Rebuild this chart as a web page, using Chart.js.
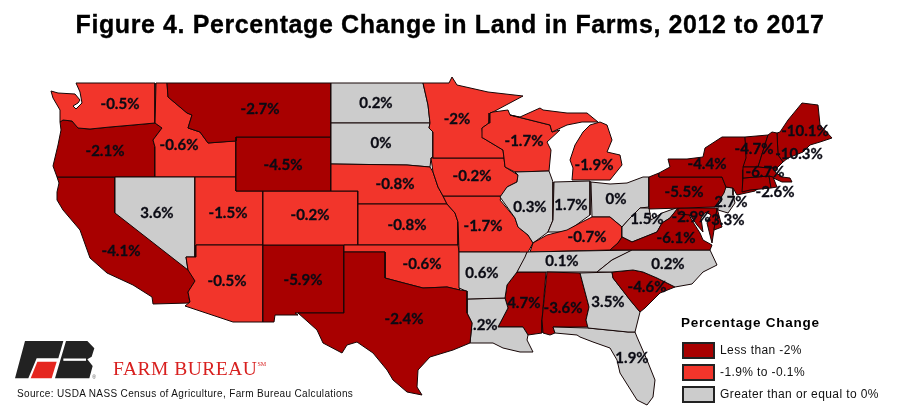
<!DOCTYPE html>
<html>
<head>
<meta charset="utf-8">
<title>Land in Farms</title>
<script src="https://cdn.jsdelivr.net/npm/chart.js@4/dist/chart.umd.min.js"></script>
<style>
    html, body { margin: 0; padding: 0; background: #fff; overflow: hidden; }
    #wrap { position: relative; width: 900px; height: 416px; }
    #wrap > * { position: absolute; }
    #mapChart { left: 0; top: 0; }
    #title { left: 0; width: 900px; top: 10px; text-align: center; font: bold 25px "Liberation Sans"; letter-spacing: .6px; color: #000; white-space: nowrap; -webkit-text-stroke: .35px #000; }
    #legendTitle { left: 681px; top: 315px; font: bold 13.5px "Liberation Sans"; letter-spacing: .75px; color: #000; white-space: nowrap; }
    .swatch { left: 682px; width: 29px; height: 13px; border: 2px solid #222; }
    .legendText { left: 720px; font: 12px "Liberation Sans"; letter-spacing: .4px; color: #111; white-space: nowrap; }
    #brand { left: 113px; top: 358px; font: 19.5px "Liberation Serif"; letter-spacing: .5px; color: #d8201f; white-space: nowrap; }
    #brand sup { font-size: 6px; vertical-align: 9px; letter-spacing: 0; }
    #source { left: 17px; top: 388px; font: 10px "Liberation Sans"; letter-spacing: .35px; color: #111; white-space: nowrap; }
    #logo { left: 0; top: 330px; }
</style>
</head>
<body>
<div id="wrap">
    <canvas id="mapChart" width="900" height="416"></canvas>
    <div id="title">Figure 4. Percentage Change in Land in Farms, 2012 to 2017</div>
    <div id="legendTitle"></div>
    <div class="swatch" style="top:342px"></div><div class="legendText" style="top:343px"></div>
    <div class="swatch" style="top:364px"></div><div class="legendText" style="top:365px"></div>
    <div class="swatch" style="top:386px"></div><div class="legendText" style="top:387px"></div>
    <svg id="logo" width="370" height="80" viewBox="0 0 1110 240">
        <path fill="#222" d="M75 33H190L175 85H110L85 145H45Z"/>
        <path fill="#e5261f" d="M112 95H170L155 145H92Z"/>
        <path fill="#222" d="M198 33H262L283 55L275 80L262 88L278 108L268 145H165Z"/>
        <path fill="none" stroke="#fff" stroke-width="7" d="M190 89H258"/>
        <text x="277" y="147" font-size="15" font-family="Liberation Sans" fill="#555">®</text>
    </svg>
    <div id="brand">FARM BUREAU<sup>SM</sup></div>
    <div id="source">Source: USDA NASS Census of Agriculture, Farm Bureau Calculations</div>
</div>
<script>
// Values. CT has no readable label, so its value is an estimate.
const stateNames = ['TX', 'AR', 'LA', 'RI', 'MA', 'CT', 'NH', 'VT', 'ME', 'NY', 'PA', 'NJ', 'DE', 'MD', 'VA', 'WV', 'NC', 'SC', 'GA', 'FL', 'AL', 'TN', 'KY', 'OH', 'IN', 'IL', 'MI', 'MI-UP', 'WI', 'MN', 'IA', 'MO', 'OK', 'KS', 'NE', 'SD', 'ND', 'MT', 'WY', 'CO', 'NM', 'AZ', 'UT', 'NV', 'ID', 'WA', 'OR', 'CA', 'MS'];
const landChange = [-2.4, 0.6, 1.2, -2.6, -6.7, -3, -10.3, -4.7, -10.1, -4.4, -5.5, 2.7, -3.3, -2.9, -6.1, 1.5, 0.2, -4.6, 3.5, 1.9, -3.6, 0.1, -0.7, 0, 1.7, 0.3, -1.9, -1.9, -1.7, -2, -0.2, -1.7, -0.6, -0.8, -0.8, 0, 0.2, -2.7, -4.5, -0.2, -5.9, -0.5, -1.5, 3.6, -0.6, -0.5, -2.1, -4.1, -4.7];

// These two labels sit under a neighbouring state in the reference
const labelsUnderMap = ['LA', 'MS'];

const legendTitle = 'Percentage Change';
const legendLabels = ['Less than -2%', '-1.9% to -0.1%', 'Greater than or equal to 0%'];
const binColors = ['#a80000', '#f2352b', '#cccccc'];

// State outlines, traced in map units
const outlines = {
    WA: [76,83, 155,83, 155,123, 133,125, 110,127, 90,129, 78,128, 72,121, 63,120, 60,122, 60,110, 53,98, 51,91, 58,93, 75,94, 80,100, 78,103, 73,106, 76,109, 82,103, 80,92],
    OR: [60,122, 63,120, 72,121, 78,128, 90,129, 110,127, 133,125, 155,123, 162,128, 153,140, 155,147, 155,177, 57,177, 53,166, 58,145, 61,130],
    CA: [57,177, 115,177, 115,213, 187,257, 188,270, 190,272, 195,281, 188,292, 190,303, 153,304, 152,297, 133,285, 107,273, 90,258, 80,230, 63,210, 57,200, 57,192, 59,183],
    NV: [115,177, 195,177, 195,257, 186,257, 188,270, 115,213],
    ID: [156,83, 167,83, 168,97, 187,113, 192,115, 188,128, 200,132, 208,143, 233,141, 236,141, 236,177, 155,177, 155,147, 153,140, 162,128, 155,123],
    MT: [167,83, 331,83, 331,137, 236,137, 236,141, 208,143, 200,132, 188,128, 192,115, 187,113, 168,97],
    WY: [236,137, 331,137, 331,191, 236,191],
    UT: [195,177, 236,177, 236,191, 263,191, 263,245, 196,245, 196,257, 195,257],
    CO: [263,191, 358,191, 358,245, 263,245],
    AZ: [196,245, 263,245, 263,322, 233,322, 185,306, 190,302, 188,292, 195,281, 188,270, 186,257, 196,257],
    NM: [263,245, 344,245, 344,313, 295,313, 298,315, 275,315, 274,322, 263,322],
    ND: [331,83, 423,83, 428,105, 430,123, 331,123],
    SD: [331,123, 430,123, 429,128, 433,132, 433,157, 431,158, 430,167, 407,165, 331,164],
    NE: [331,164, 407,165, 430,167, 433,172, 438,187, 443,196, 447,204, 358,204, 358,191, 331,191],
    KS: [358,204, 447,204, 455,213, 458,222, 458,245, 358,245],
    OK: [344,245, 458,245, 459,252, 459,288, 460,290, 447,287, 423,288, 400,282, 385,278, 385,252, 344,252],
    TX: [344,252, 385,252, 385,278, 400,282, 423,288, 447,287, 460,290, 467,291, 467,313, 472,323, 470,343, 453,350, 430,357, 418,370, 417,387, 422,395, 407,392, 393,380, 387,370, 373,353, 357,342, 347,345, 342,353, 323,343, 317,330, 298,313, 344,313],
    MN: [423,83, 449,83, 452,77, 457,85, 488,92, 523,96, 493,112, 490,113, 489,123, 482,128, 483,138, 503,150, 504,158, 433,158, 433,132, 429,128, 430,123, 428,105],
    IA: [433,158, 504,158, 505,167, 518,175, 517,182, 507,187, 502,196, 443,196, 438,187, 433,172, 431,158],
    MO: [443,196, 502,196, 500,200, 515,218, 518,227, 528,235, 533,243, 528,252, 524,258, 518,258, 520,252, 459,252, 458,222, 455,213, 447,204],
    AR: [459,252, 527,252, 525,257, 517,272, 507,285, 505,298, 467,299, 466,291, 459,288],
    LA: [467,299, 505,298, 508,308, 498,327, 523,327, 528,335, 527,340, 533,352, 520,352, 503,348, 493,343, 477,343, 470,343, 472,323, 467,313],
    WI: [489,123, 490,113, 493,112, 508,110, 510,115, 550,125, 552,132, 560,130, 547,142, 551,150, 549,171, 515,172, 505,167, 504,158, 503,150, 483,138, 482,128],
    'MI-UP': [510,115, 520,117, 540,108, 543,110, 567,113, 587,113, 598,122, 582,122, 567,125, 552,132, 550,125],
    MI: [572,180, 573,168, 570,160, 575,145, 583,132, 590,125, 600,122, 607,125, 612,140, 607,152, 620,155, 622,165, 610,180],
    IL: [515,172, 549,171, 553,182, 553,220, 548,232, 540,238, 533,243, 528,235, 518,227, 515,218, 500,197, 507,187, 517,182, 518,175],
    IN: [554,182, 590,181, 590,215, 583,220, 567,232, 548,232, 553,220],
    OH: [591,182, 610,184, 627,183, 643,177, 649,177, 649,207, 640,208, 630,218, 622,227, 610,217, 592,217],
    KY: [533,243, 547,235, 567,230, 580,223, 592,217, 610,217, 622,227, 622,237, 618,243, 610,250, 530,252],
    TN: [527,252, 633,250, 612,260, 597,272, 517,272, 522,260],
    MS: [517,272, 546,272, 542,320, 542,333, 528,335, 523,327, 498,327, 508,308, 505,298, 507,285],
    AL: [547,272, 580,273, 589,307, 586,320, 588,327, 553,327, 555,333, 550,335, 543,333, 542,320],
    GA: [580,273, 612,272, 613,278, 630,300, 640,312, 635,332, 628,332, 588,328, 586,320, 589,307],
    FL: [553,327, 588,328, 628,332, 635,332, 637,337, 647,360, 655,380, 653,397, 647,405, 637,400, 620,373, 617,360, 610,348, 593,342, 580,337, 577,335, 555,333],
    SC: [612,272, 633,270, 643,272, 657,278, 675,287, 660,293, 645,308, 640,312, 630,300, 613,278],
    NC: [632,250, 710,250, 717,265, 703,272, 692,284, 675,287, 657,278, 643,272, 633,270, 612,272, 597,272, 612,260],
    VA: [610,250, 618,243, 622,237, 632,242, 657,232, 662,223, 670,218, 678,208, 683,215, 688,213, 693,222, 700,233, 703,240, 712,245, 710,250],
    WV: [649,208, 651,220, 662,213, 676,208, 678,208, 670,218, 662,223, 657,232, 632,242, 622,237, 622,227, 630,218, 640,208],
    MD: [678,208, 717,208, 714,230, 712,243, 707,223, 711,215, 706,212, 701,218, 703,232, 697,225, 690,215, 678,214],
    DE: [717,208, 722,227, 714,230],
    PA: [649,177, 659,173, 659,177, 722,177, 726,187, 724,193, 715,207, 649,209],
    NJ: [725,187, 733,188, 733,195, 735,203, 728,213, 718,210, 718,205, 722,200, 721,193],
    NY: [659,177, 659,173, 670,167, 668,159, 687,159, 703,157, 705,148, 722,137, 745,137, 747,157, 743,170, 743,188, 760,187, 755,191, 737,195, 733,188, 726,187, 722,177],
    VT: [745,137, 768,135, 758,167, 743,167, 746,158],
    NH: [768,135, 772,132, 777,133, 778,155, 783,162, 777,168, 768,168, 758,167],
    ME: [777,133, 780,132, 788,120, 802,103, 818,105, 820,125, 832,138, 820,142, 810,145, 803,152, 788,158, 783,162, 778,155],
    MA: [743,167, 758,167, 768,168, 777,168, 775,172, 782,177, 790,178, 792,182, 782,182, 769,176, 743,178],
    CT: [743,178, 769,176, 771,188, 750,190, 742,192],
    RI: [769,176, 773,177, 777,187, 771,188]
};

// Label anchors in the same map units
const labelAnchors = {
    WA: [120,104], MT: [260,109], ND: [376,103], MN: [457,119], WI: [524,141], MI: [594,165], OR: [105,151], ID: [179,145],
    WY: [283,165], SD: [381,143], NE: [395,184], IA: [472,176], IL: [530,207], IN: [571,205], OH: [616,199], PA: [684,192],
    NY: [707,164], VT: [754,149], ME: [805,131], NH: [799,154], MA: [765,172], RI: [775,192], NJ: [731,202], DE: [725,220],
    MD: [691,217], WV: [647,219], VA: [676,238], KY: [587,237], NC: [668,264], TN: [562,261], SC: [647,287], GA: [608,302],
    AL: [563,308], MS: [521,303], AR: [482,273], LA: [481,325], TX: [404,319], OK: [422,264], MO: [483,226], KS: [407,225],
    CO: [310,215], NM: [303,280], AZ: [227,281], UT: [228,213], NV: [157,213], CA: [121,251], FL: [632,358]
};

function binColor(value) {
    if (value < -2) return binColors[0];
    if (value < 0) return binColors[1];
    return binColors[2];
}

function toPoints(flat) {
    const pts = [];
    for (let i = 0; i < flat.length; i += 2) {
        pts.push({ x: flat[i], y: flat[i + 1] });
    }
    pts.push({ x: flat[0], y: flat[1] });
    return pts;
}

function drawLabel(chart, name) {
    const anchor = labelAnchors[name];
    if (!anchor) return;
    const value = landChange[stateNames.indexOf(name)];
    const ctx = chart.ctx;
    const px = chart.scales.x.getPixelForValue(anchor[0]);
    const py = chart.scales.y.getPixelForValue(anchor[1]);
    ctx.save();
    ctx.font = 'bold 15px Lato';
    ctx.fillStyle = '#0b0b14';
    ctx.strokeStyle = '#0b0b14';
    ctx.lineWidth = 0.3;
    ctx.textAlign = 'center';
    ctx.textBaseline = 'middle';
    ctx.fillText(value + '%', px, py);
    ctx.strokeText(value + '%', px, py);
    ctx.restore();
}

const stateLabels = {
    id: 'stateLabels',
    afterDatasetDraw(chart, args) {
        const name = stateNames[args.index];
        if (labelsUnderMap.includes(name)) drawLabel(chart, name);
    },
    afterDatasetsDraw(chart) {
        stateNames.forEach(name => {
            if (!labelsUnderMap.includes(name)) drawLabel(chart, name);
        });
    }
};

document.getElementById('legendTitle').innerText = legendTitle;
document.querySelectorAll('.swatch').forEach((el, i) => { el.style.background = binColors[i]; });
document.querySelectorAll('.legendText').forEach((el, i) => { el.innerText = legendLabels[i]; });

new Chart(document.getElementById('mapChart').getContext('2d'), {
    type: 'scatter',
    data: {
        datasets: stateNames.map((name, i) => ({
            label: name,
            data: toPoints(outlines[name]),
            showLine: true,
            fill: 'shape',
            tension: 0,
            pointRadius: 0,
            borderWidth: 1,
            borderColor: '#160606',
            backgroundColor: binColor(landChange[i])
        }))
    },
    options: {
        responsive: false,
        animation: false,
        layout: { padding: 0 },
        plugins: { legend: { display: false }, tooltip: { enabled: false } },
        scales: {
            x: { type: 'linear', display: false, min: 0, max: 900 },
            y: { type: 'linear', display: false, min: 0, max: 416, reverse: true }
        }
    },
    plugins: [stateLabels]
});
</script>
</body>
</html>
